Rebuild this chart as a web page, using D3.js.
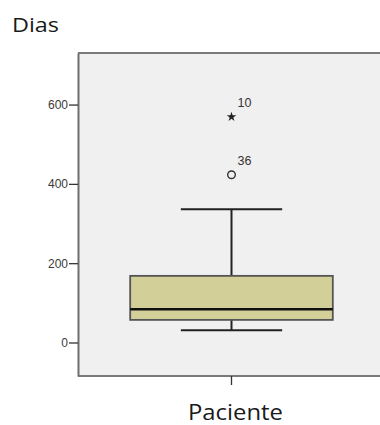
<!DOCTYPE html>
<html><head><meta charset="utf-8">
<script src="https://cdn.jsdelivr.net/npm/d3@7"></script>
<style>body{margin:0;background:#fff}svg{display:block}</style>
</head><body>
<svg id="c" width="380" height="425"></svg>
<script>
// ---- data ----
const category = ["Paciente"];
const boxStats = {min: 31, q1: 57, median: 84, q3: 168, max: 336};
const outlierValues = [423, 569];
const outlierIds = ["36", "10"];
const outlierKinds = ["circle", "star"];
const yTickValues = [0, 200, 400, 600];
const yTitle = "Dias";

(function () {
const svg = d3.select("#c");
const pL = 78, pR = 385, pT = 53, pB = 376;
const y = d3.scaleLinear().domain([-84.5, 730]).range([pB, pT]);
const x = d3.scaleBand().domain(category).range([pL, pR]);
const cx = x(category[0]) + x.bandwidth() / 2;

// plot background
svg.append("rect").attr("x", pL).attr("y", pT).attr("width", pR - pL).attr("height", pB - pT)
  .attr("fill", "#f0f0f0");
// frame lines
svg.append("line").attr("x1", pL).attr("x2", pR).attr("y1", pT).attr("y2", pT).attr("stroke", "#7a7a7a").attr("stroke-width", 2);
svg.append("line").attr("x1", pL).attr("x2", pR).attr("y1", pB).attr("y2", pB).attr("stroke", "#7a7a7a").attr("stroke-width", 2);

// y axis
const yAxis = svg.append("g").attr("transform", `translate(${pL},0)`)
  .call(d3.axisLeft(y).tickValues(yTickValues).tickSizeInner(9).tickSizeOuter(0).tickPadding(1).tickFormat(d3.format("d")));
yAxis.select(".domain").attr("stroke", "#6e6e6e").attr("stroke-width", 2);
yAxis.selectAll(".tick line").attr("stroke", "#333").attr("stroke-width", 1.3);
yAxis.selectAll(".tick text").attr("fill", "#3a3a3a").attr("font-family", "Liberation Sans, Arial, sans-serif").attr("font-size", 12);

// x axis tick
const xAxis = svg.append("g").attr("transform", `translate(0,${pB})`)
  .call(d3.axisBottom(x).tickSizeInner(9).tickSizeOuter(0).tickFormat(""));
xAxis.select(".domain").remove();
xAxis.selectAll(".tick line").attr("stroke", "#333").attr("stroke-width", 1.3);

const bw = x.bandwidth() * 0.66;
const ww = x.bandwidth() * 0.33;
const ink = "#222";
// whiskers
svg.append("line").attr("x1", cx).attr("x2", cx).attr("y1", y(boxStats.q3)).attr("y2", y(boxStats.max)).attr("stroke", ink).attr("stroke-width", 2);
svg.append("line").attr("x1", cx).attr("x2", cx).attr("y1", y(boxStats.q1)).attr("y2", y(boxStats.min)).attr("stroke", ink).attr("stroke-width", 2);
svg.append("line").attr("x1", cx - ww / 2).attr("x2", cx + ww / 2).attr("y1", y(boxStats.max)).attr("y2", y(boxStats.max)).attr("stroke", ink).attr("stroke-width", 2);
svg.append("line").attr("x1", cx - ww / 2).attr("x2", cx + ww / 2).attr("y1", y(boxStats.min)).attr("y2", y(boxStats.min)).attr("stroke", ink).attr("stroke-width", 2);
// box
svg.append("rect").attr("x", cx - bw / 2).attr("y", y(boxStats.q3)).attr("width", bw).attr("height", y(boxStats.q1) - y(boxStats.q3))
  .attr("fill", "#d3cf99").attr("stroke", "#555").attr("stroke-width", 1.8);
svg.append("line").attr("x1", cx - bw / 2).attr("x2", cx + bw / 2).attr("y1", y(boxStats.median)).attr("y2", y(boxStats.median)).attr("stroke", "#111").attr("stroke-width", 2.4);

// outliers
outlierValues.forEach((v, i) => {
  const py = y(v);
  if (outlierKinds[i] === "circle") {
    svg.append("circle").attr("cx", cx).attr("cy", py).attr("r", 3.8).attr("fill", "none").attr("stroke", "#333").attr("stroke-width", 1.4);
  } else {
    svg.append("path").attr("d", d3.symbol().type(d3.symbolStar).size(28)()).attr("transform", `translate(${cx},${py})`).attr("fill", "#222");
  }
  svg.append("text").attr("x", cx + 6).attr("y", py - 9.5).text(outlierIds[i])
    .attr("font-family", "Liberation Sans, Arial, sans-serif").attr("font-size", 12.5).attr("fill", "#333");
});

// titles
svg.append("text").attr("x", 12).attr("y", 31.5).text(yTitle)
  .attr("font-family", "Open Sans, sans-serif").attr("font-size", 20).attr("fill", "#1a1a1a")
  .attr("textLength", 47).attr("lengthAdjust", "spacingAndGlyphs");
svg.append("text").attr("x", 188).attr("y", 420).text(category[0])
  .attr("font-family", "Open Sans, sans-serif").attr("font-size", 21).attr("fill", "#1a1a1a")
  .attr("textLength", 95).attr("lengthAdjust", "spacingAndGlyphs");
})();
</script>
</body></html>
